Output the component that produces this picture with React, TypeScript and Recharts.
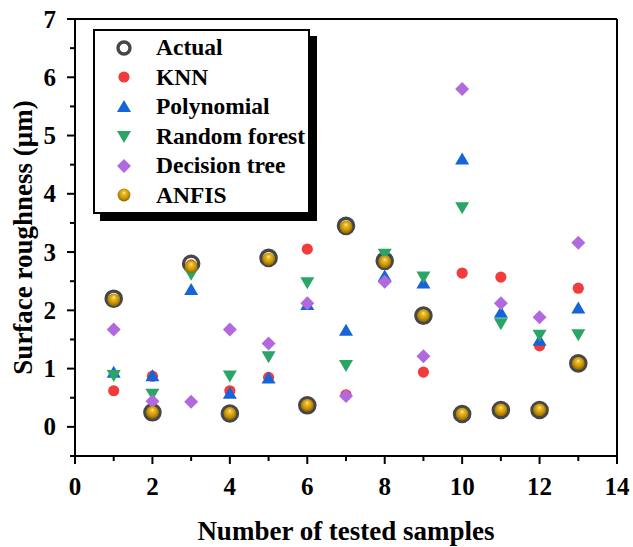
import React from 'react';
import { ScatterChart, Scatter, XAxis, YAxis, ReferenceLine, Legend } from 'recharts';

const samples = [1, 2, 3, 4, 5, 6, 7, 8, 9, 10, 11, 12, 13];
const actual = [2.2, 0.25, 2.8, 0.23, 2.9, 0.37, 3.45, 2.85, 1.91, 0.22, 0.29, 0.29, 1.09];
const knn = [0.62, 0.87, 2.78, 0.62, 0.85, 3.05, 0.55, 2.85, 0.94, 2.64, 2.57, 1.39, 2.38];
const polynomial = [0.93, 0.87, 2.35, 0.57, 0.83, 2.09, 1.65, 2.58, 2.46, 4.59, 1.96, 1.48, 2.03];
const randomForest = [0.89, 0.57, 2.63, 0.88, 1.21, 2.48, 1.06, 2.97, 2.58, 3.77, 1.78, 1.58, 1.59];
const decisionTree = [1.67, 0.44, 0.43, 1.67, 1.43, 2.12, 0.53, 2.49, 1.21, 5.8, 2.12, 1.88, 3.16];
const anfis = [2.18, 0.25, 2.75, 0.23, 2.88, 0.37, 3.43, 2.83, 1.91, 0.22, 0.29, 0.29, 1.09];

const xTicks = [0, 1, 2, 3, 4, 5, 6, 7, 8, 9, 10, 11, 12, 13, 14];
const yTicks = [-0.5, 0, 0.5, 1, 1.5, 2, 2.5, 3, 3.5, 4, 4.5, 5, 5.5, 6, 6.5, 7];

const FONT = '"Liberation Serif", "Times New Roman", serif';

const toPoints = (vals: number[]) => samples.map((x, i) => ({ x, y: vals[i] }));

type Kind = 'actual' | 'knn' | 'poly' | 'rf' | 'dt' | 'anfis';

const GoldDefs = () => (
  <defs>
    <radialGradient id="goldBall" cx="50%" cy="45%" r="55%" fx="50%" fy="30%">
      <stop offset="0%" stopColor="#fffbe6" />
      <stop offset="18%" stopColor="#f2c433" />
      <stop offset="65%" stopColor="#c99505" />
      <stop offset="100%" stopColor="#8c6500" />
    </radialGradient>
  </defs>
);

const Marker = ({ kind, cx, cy, legend }: { kind: Kind; cx: number; cy: number; legend?: boolean }) => {
  switch (kind) {
    case 'actual':
      return <circle cx={cx} cy={cy} r={legend ? 6 : 7.6} fill="none" stroke="#474747" strokeWidth={3.4} />;
    case 'knn':
      return <circle cx={cx} cy={cy} r={5.6} fill="#f23b3b" />;
    case 'poly':
      return <polygon points={`${cx},${cy - 7} ${cx - 7},${cy + 5} ${cx + 7},${cy + 5}`} fill="#1565d8" />;
    case 'rf':
      return <polygon points={`${cx - 7},${cy - 5} ${cx + 7},${cy - 5} ${cx},${cy + 7}`} fill="#2ba566" />;
    case 'dt':
      return <polygon points={`${cx},${cy - 7} ${cx + 7},${cy} ${cx},${cy + 7} ${cx - 7},${cy}`} fill="#b06ade" />;
    case 'anfis':
      return (
        <g>
          <GoldDefs />
          <circle cx={cx} cy={cy} r={6.4} fill="url(#goldBall)" />
        </g>
      );
  }
  return null;
};

const series: { name: string; kind: Kind; values: number[] }[] = [
  { name: 'Actual', kind: 'actual', values: actual },
  { name: 'KNN', kind: 'knn', values: knn },
  { name: 'Polynomial', kind: 'poly', values: polynomial },
  { name: 'Random forest', kind: 'rf', values: randomForest },
  { name: 'Decision tree', kind: 'dt', values: decisionTree },
  { name: 'ANFIS', kind: 'anfis', values: anfis },
];

const XTick = (props: any) => {
  const { x, y, payload } = props;
  const major = payload.value % 2 === 0;
  return (
    <g>
      <line x1={x} x2={x} y1={y} y2={y + (major ? 8 : 5)} stroke="#000" strokeWidth={2} />
      {major && (
        <text x={x} y={y + 39} textAnchor="middle" fontFamily={FONT} fontWeight="bold" fontSize={25} fill="#000">
          {payload.value}
        </text>
      )}
    </g>
  );
};

const YTick = (props: any) => {
  const { x, y, payload } = props;
  const major = Number.isInteger(payload.value);
  return (
    <g>
      <line x1={x} x2={x - (major ? 8 : 5)} y1={y} y2={y} stroke="#000" strokeWidth={2} />
      {major && (
        <text x={x - 19} y={y + 8.5} textAnchor="end" fontFamily={FONT} fontWeight="bold" fontSize={25} fill="#000">
          {payload.value}
        </text>
      )}
    </g>
  );
};

const YLabel = (props: any) => {
  const vb = props.viewBox || { x: 0, y: 19, width: 75, height: 437 };
  const cy = vb.y + vb.height / 2;
  const cx = 32;
  return (
    <text
      x={cx}
      y={cy}
      transform={`rotate(-90 ${cx} ${cy})`}
      textAnchor="middle"
      fontFamily={FONT}
      fontWeight="bold"
      fontSize={27}
      fill="#000"
    >
      Surface roughness (μm)
    </text>
  );
};

const XLabel = (props: any) => {
  const vb = props.viewBox || { x: 75, y: 456, width: 542, height: 91 };
  return (
    <text
      x={vb.x + vb.width / 2}
      y={540}
      textAnchor="middle"
      fontFamily={FONT}
      fontWeight="bold"
      fontSize={27}
      fill="#000"
    >
      Number of tested samples
    </text>
  );
};

const LegendBox = () => (
  <div
    style={{
      border: '2px solid #000',
      boxShadow: '7px 7px 0 #000',
      background: '#fff',
      width: 213,
      padding: '2px 0 2px 0',
      fontFamily: FONT,
      fontWeight: 'bold',
      fontSize: 23.5,
      color: '#000',
      whiteSpace: 'nowrap',
    }}
  >
    {series.map(s => (
      <div key={s.name} style={{ display: 'flex', alignItems: 'center', height: 29.5 }}>
        <svg width={22} height={22} style={{ marginLeft: 18, marginRight: 21, flexShrink: 0 }}>
          <Marker kind={s.kind} cx={11} cy={11} legend />
        </svg>
        <span style={{ lineHeight: '29.5px' }}>{s.name}</span>
      </div>
    ))}
  </div>
);

export default function App() {
  return (
    <div style={{ position: 'absolute', left: 0, top: 0, width: 633, height: 547, background: '#fff' }}>
      <ScatterChart width={633} height={547} margin={{ top: 19, right: 16, left: 0, bottom: 0 }}>
        <XAxis
          type="number"
          dataKey="x"
          domain={[0, 14]}
          ticks={xTicks}
          interval={0}
          height={91}
          tickSize={0}
          tickMargin={0}
          tickLine={false}
          tick={<XTick />}
          axisLine={{ stroke: '#000', strokeWidth: 2 }}
          label={<XLabel />}
        />
        <YAxis
          type="number"
          dataKey="y"
          domain={[-0.5, 7]}
          ticks={yTicks}
          interval={0}
          width={75}
          tickSize={0}
          tickMargin={0}
          tickLine={false}
          tick={<YTick />}
          axisLine={{ stroke: '#000', strokeWidth: 2 }}
          label={<YLabel />}
        />
        <ReferenceLine y={7} stroke="#000" strokeWidth={2} />
        <ReferenceLine x={14} stroke="#000" strokeWidth={2} />
        <Legend
          layout="horizontal"
          verticalAlign="middle"
          align="center"
          content={<LegendBox />}
          wrapperStyle={{ left: 93, top: 29, width: 'auto' }}
        />
        {series.map(s => (
          <Scatter
            key={s.name}
            name={s.name}
            data={toPoints(s.values)}
            isAnimationActive={false}
            shape={(p: any) => <Marker kind={s.kind} cx={p.cx} cy={p.cy} />}
          />
        ))}
      </ScatterChart>
    </div>
  );
}
